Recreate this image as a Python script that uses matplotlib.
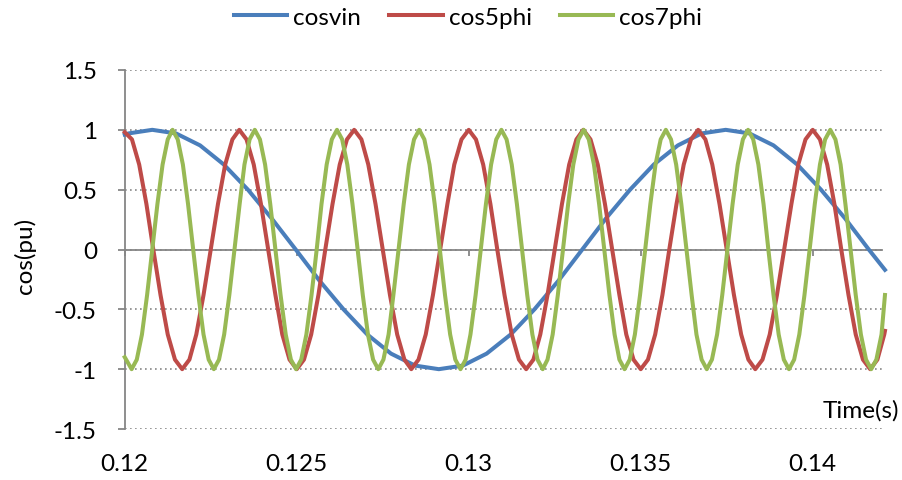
import numpy as np
import matplotlib
matplotlib.use("Agg")
import matplotlib.pyplot as plt
from matplotlib.ticker import FuncFormatter, FixedLocator

# sample times in ms, values in pu
t_vin = [120.00, 120.11, 120.80, 121.49, 122.19, 122.88, 123.58, 124.27, 124.97, 125.66,
         126.36, 127.05, 127.74, 128.44, 129.13, 129.83, 130.52, 131.22, 131.91, 132.61,
         133.30, 133.99, 134.69, 135.38, 136.08, 136.77, 137.47, 138.16, 138.86, 139.55,
         140.24, 140.94, 141.63, 142.10]
cosvin = [0.96, 0.97, 1.0, 0.97, 0.87, 0.71, 0.5, 0.26, 0.0, -0.26,
          -0.5, -0.71, -0.87, -0.97, -1.0, -0.97, -0.87, -0.71, -0.5, -0.26,
          0.0, 0.26, 0.5, 0.71, 0.87, 0.97, 1.0, 0.97, 0.87, 0.71,
          0.5, 0.26, 0.0, -0.17]

t_5phi = [120.00, 120.21, 120.42, 120.63, 120.83, 121.04, 121.25, 121.46, 121.67, 121.88, 122.08, 122.29, 122.50, 122.71, 122.92, 123.13,
          123.33, 123.54, 123.75, 123.96, 124.17, 124.38, 124.58, 124.79, 125.00, 125.21, 125.42, 125.63, 125.83, 126.04, 126.25, 126.46,
          126.67, 126.88, 127.08, 127.29, 127.50, 127.71, 127.92, 128.13, 128.33, 128.54, 128.75, 128.96, 129.17, 129.38, 129.58, 129.79,
          130.00, 130.21, 130.42, 130.63, 130.83, 131.04, 131.25, 131.46, 131.67, 131.88, 132.08, 132.29, 132.50, 132.71, 132.92, 133.13,
          133.33, 133.54, 133.75, 133.96, 134.17, 134.38, 134.58, 134.79, 135.00, 135.21, 135.42, 135.63, 135.83, 136.04, 136.25, 136.46,
          136.67, 136.88, 137.08, 137.29, 137.50, 137.71, 137.92, 138.13, 138.33, 138.54, 138.75, 138.96, 139.17, 139.38, 139.58, 139.79,
          140.00, 140.21, 140.42, 140.63, 140.83, 141.04, 141.25, 141.46, 141.67, 141.88, 142.08, 142.10]
cos5phi = [0.98, 0.92, 0.71, 0.38, 0.0, -0.38, -0.71, -0.92, -1.0, -0.92, -0.71, -0.38, 0.0, 0.38, 0.71, 0.92,
           1.0, 0.92, 0.71, 0.38, 0.0, -0.38, -0.71, -0.92, -1.0, -0.92, -0.71, -0.38, 0.0, 0.38, 0.71, 0.92,
           1.0, 0.92, 0.71, 0.38, 0.0, -0.38, -0.71, -0.92, -1.0, -0.92, -0.71, -0.38, 0.0, 0.38, 0.71, 0.92,
           1.0, 0.92, 0.71, 0.38, 0.0, -0.38, -0.71, -0.92, -1.0, -0.92, -0.71, -0.38, 0.0, 0.38, 0.71, 0.92,
           1.0, 0.92, 0.71, 0.38, 0.0, -0.38, -0.71, -0.92, -1.0, -0.92, -0.71, -0.38, 0.0, 0.38, 0.71, 0.92,
           1.0, 0.92, 0.71, 0.38, 0.0, -0.38, -0.71, -0.92, -1.0, -0.92, -0.71, -0.38, 0.0, 0.38, 0.71, 0.92,
           1.0, 0.92, 0.71, 0.38, 0.0, -0.38, -0.71, -0.92, -1.0, -0.92, -0.71, -0.68]

t_7phi = [120.00,
          120.20, 120.35, 120.50, 120.65, 120.80, 120.95, 121.10, 121.25, 121.39, 121.54, 121.69, 121.84, 121.99, 122.14, 122.29, 122.44,
          122.59, 122.74, 122.89, 123.04, 123.19, 123.34, 123.48, 123.63, 123.78, 123.93, 124.08, 124.23, 124.38, 124.53, 124.68, 124.83,
          124.98, 125.13, 125.28, 125.43, 125.58, 125.72, 125.87, 126.02, 126.17, 126.32, 126.47, 126.62, 126.77, 126.92, 127.07, 127.22,
          127.37, 127.52, 127.67, 127.81, 127.96, 128.11, 128.26, 128.41, 128.56, 128.71, 128.86, 129.01, 129.16, 129.31, 129.46, 129.61,
          129.76, 129.91, 130.05, 130.20, 130.35, 130.50, 130.65, 130.80, 130.95, 131.10, 131.25, 131.40, 131.55, 131.70, 131.85, 132.00,
          132.15, 132.29, 132.44, 132.59, 132.74, 132.89, 133.04, 133.19, 133.34, 133.49, 133.64, 133.79, 133.94, 134.09, 134.24, 134.38,
          134.53, 134.68, 134.83, 134.98, 135.13, 135.28, 135.43, 135.58, 135.73, 135.88, 136.03, 136.18, 136.33, 136.48, 136.62, 136.77,
          136.92, 137.07, 137.22, 137.37, 137.52, 137.67, 137.82, 137.97, 138.12, 138.27, 138.42, 138.57, 138.71, 138.86, 139.01, 139.16,
          139.31, 139.46, 139.61, 139.76, 139.91, 140.06, 140.21, 140.36, 140.51, 140.66, 140.81, 140.95, 141.10, 141.25, 141.40, 141.55,
          141.70, 141.85, 142.00, 142.10]
cos7phi = [-0.9,
           -1.0, -0.92, -0.71, -0.38, 0.0, 0.38, 0.71, 0.92, 1.0, 0.92, 0.71, 0.38, 0.0, -0.38, -0.71, -0.92,
           -1.0, -0.92, -0.71, -0.38, 0.0, 0.38, 0.71, 0.92, 1.0, 0.92, 0.71, 0.38, 0.0, -0.38, -0.71, -0.92,
           -1.0, -0.92, -0.71, -0.38, 0.0, 0.38, 0.71, 0.92, 1.0, 0.92, 0.71, 0.38, 0.0, -0.38, -0.71, -0.92,
           -1.0, -0.92, -0.71, -0.38, 0.0, 0.38, 0.71, 0.92, 1.0, 0.92, 0.71, 0.38, 0.0, -0.38, -0.71, -0.92,
           -1.0, -0.92, -0.71, -0.38, 0.0, 0.38, 0.71, 0.92, 1.0, 0.92, 0.71, 0.38, 0.0, -0.38, -0.71, -0.92,
           -1.0, -0.92, -0.71, -0.38, 0.0, 0.38, 0.71, 0.92, 1.0, 0.92, 0.71, 0.38, 0.0, -0.38, -0.71, -0.92,
           -1.0, -0.92, -0.71, -0.38, 0.0, 0.38, 0.71, 0.92, 1.0, 0.92, 0.71, 0.38, 0.0, -0.38, -0.71, -0.92,
           -1.0, -0.92, -0.71, -0.38, 0.0, 0.38, 0.71, 0.92, 1.0, 0.92, 0.71, 0.38, 0.0, -0.38, -0.71, -0.92,
           -1.0, -0.92, -0.71, -0.38, 0.0, 0.38, 0.71, 0.92, 1.0, 0.92, 0.71, 0.38, 0.0, -0.38, -0.71, -0.92,
           -1.0, -0.92, -0.71, -0.38]

x_ticks = [0.12, 0.125, 0.13, 0.135, 0.14]
y_ticks = [-1.5, -1, -0.5, 0, 0.5, 1, 1.5]

grey = "#868686"
plt.rcParams['font.family'] = ['Lato', 'DejaVu Sans']
fs = 17.5

fig = plt.figure(figsize=(9.02, 4.81), dpi=100)
ax = fig.add_axes([0.1383, 0.1060, 0.8390, 0.7464])

series = [(t_vin, cosvin, "cosvin", "#4A7EBB"),
          (t_5phi, cos5phi, "cos5phi", "#BE4B48"),
          (t_7phi, cos7phi, "cos7phi", "#98B954")]
for t, v, name, col in series:
    ax.plot(np.array(t) / 1000.0, v, color=col, lw=2.9, label=name,
            solid_joinstyle="round", clip_on=False, zorder=3)

ax.set_xlim(0.12, 0.142)
ax.set_ylim(-1.5, 1.5)
ax.xaxis.set_major_locator(FixedLocator(x_ticks))
ax.yaxis.set_major_locator(FixedLocator(y_ticks))
fmt = FuncFormatter(lambda v, p: f"{v:g}")
ax.xaxis.set_major_formatter(fmt)
ax.yaxis.set_major_formatter(fmt)

for s in ["top", "right", "bottom"]:
    ax.spines[s].set_visible(False)
ax.spines["left"].set_color(grey)
ax.spines["left"].set_linewidth(1.3)

ax.tick_params(axis="x", length=0, pad=17, labelsize=fs)
ax.tick_params(axis="y", length=5, width=1.3, color=grey, direction="out",
               pad=15, labelsize=fs)
ax.yaxis.grid(True, linestyle=(0, (1, 2)), color=grey, lw=1.2)

# horizontal axis crossing at zero
sec = ax.secondary_xaxis(0.5)
sec.set_alignment("bottom")
sec.xaxis.set_major_locator(FixedLocator(x_ticks))
sec.tick_params(axis="x", length=4.5, width=1.3, color=grey, direction="out",
                labelbottom=False, labeltop=False)
sec.spines["bottom"].set_color(grey)
sec.spines["bottom"].set_linewidth(1.3)

fig.text(25 / 902, 1 - 256 / 481, "cos(pu)", rotation=90, ha="center", va="center", fontsize=fs)
fig.text(899 / 902, 1 - 411 / 481, "Time(s)", ha="right", va="center", fontsize=fs)

fig.legend(loc="center", bbox_to_anchor=(468 / 902, 1 - 18 / 481), ncol=3, frameon=False,
           fontsize=fs, handlelength=2.2, handletextpad=0.25, columnspacing=1.15)

fig.savefig("out.png", dpi=100)
